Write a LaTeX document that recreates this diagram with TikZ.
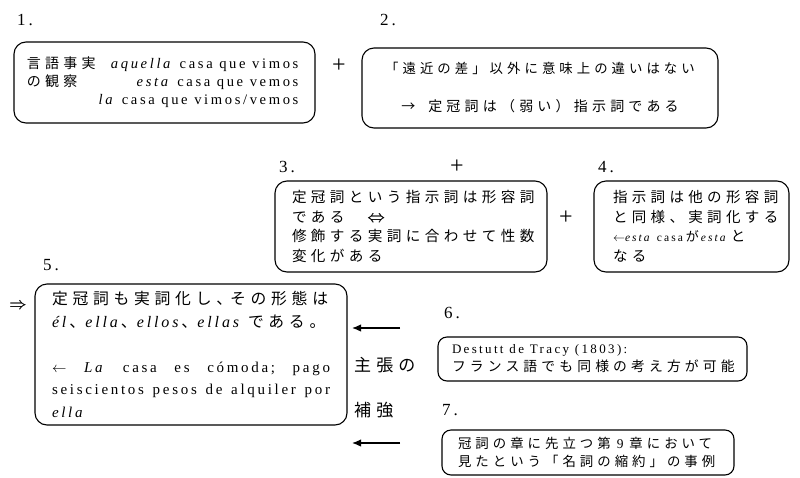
\documentclass[tikz,border=0pt]{standalone}
\usepackage{fontspec}
\setmainfont{Liberation Serif}[LetterSpace=18]
\newfontfamily\jpfont{Noto Sans CJK JP}[LetterSpace=30]
\newcommand\jtx[1]{{\jpfont #1}}
\newcommand\fatsym[1]{\rlap{$#1$}\kern0.45pt$#1$}
\newcommand\fsz[2]{\fontsize{#1}{#2}\selectfont\spaceskip=0.45em plus 0.1em minus 0.05em\relax}
\usetikzlibrary{arrows.meta}
\begin{document}
\begin{tikzpicture}[x=1pt,y=-1pt,
  box/.style={draw, line width=1.1pt, rounded corners=12pt, inner ysep=0pt, align=left, anchor=center},
  num/.style={font=\fontsize{17}{17}\selectfont, inner sep=0pt},
  plus/.style={font=\fontsize{24}{24}\selectfont, inner sep=0pt},
  side/.style={font=\fontsize{17}{17}\selectfont\jpfont, inner sep=0pt, anchor=west},
  arr/.style={line width=1.3pt, -{Latex[length=9pt,width=7.5pt]}}
]
\useasboundingbox (0,0) rectangle (800,477);

% labels
\node[num] (n1) at (25,20) {1.};
\node[num] (n2) at (388,20) {2.};
\node[num] (n3) at (287,167) {3.};
\node[num] (n4) at (606,167) {4.};
\node[num] (n5) at (51,265) {5.};
\node[num] (n6) at (452,313) {6.};
\node[num] (n7) at (450,410) {7.};

\node[plus] (p1) at (339,66) {+};
\node[plus] (p2) at (457,167) {+};
\node[plus] (p3) at (566,218) {+};

% box 1
\node[box, text width=275pt, inner xsep=13pt, minimum height=81pt,
      font=\fsz{14}{18}] (b1) at (164.5,82.5)
 {\begin{tabular}{@{}l@{\hspace{3pt}}r@{}}
  \jtx{言語事実} & {\fsz{14.6}{18}\textit{aquella} casa que vimos}\\
  \jtx{の観察} & {\fsz{14.6}{18}\textit{esta} casa que vemos}\\
   & {\fsz{14.6}{18}\textit{la} casa que vimos/vemos}
  \end{tabular}};

% box 2
\node[box, text width=336pt, inner xsep=10pt, minimum height=80pt, align=center,
      font=\fsz{13.4}{19}] (b2) at (540,88)
 {\jtx{「遠近の差」以外に意味上の違いはない}\\[19pt]
  {\fsz{14}{19}\jtx{→\hspace{13pt}定冠詞は（弱い）指示詞である}}};

% box 3
\node[box, text width=238pt, inner xsep=17pt, minimum height=91pt,
      font=\fsz{14.6}{19.5}] (b3) at (411,226.5)
 {\jtx{定冠詞という指示詞は形容詞}\\
  \jtx{である}\hspace{23pt}{\fontsize{16}{19.5}\selectfont\fatsym{\Leftrightarrow}}\\
  \jtx{修飾する実詞に合わせて性数}\\
  \jtx{変化がある}};

% box 4
\node[box, text width=157pt, inner xsep=19pt, minimum height=91pt,
      font=\fsz{14.5}{19.5}] (b4) at (691.5,226.5)
 {\jtx{指示詞は他の形容詞}\\
  \jtx{と同様、実詞化する}\\
  {\fsz{11.5}{19.5}$\leftarrow$\textit{esta} casa}\hspace{3pt}{\fontsize{13}{19.5}\selectfont\jtx{が}}\hspace{2pt}{\fsz{11.5}{19.5}\textit{esta}}\hspace{3pt}\jtx{と}\\
  \jtx{なる}};

% box 5
\node[box, text width=278pt, inner xsep=17pt, minimum height=141pt,
      font=\fsz{15}{22.5}] (b5) at (191,354.5)
 {{\fontsize{15.8}{22.5}\selectfont\jtx{定冠詞も実詞化し、\kern-2pt その形態は}}\\
  {\fsz{16}{22.5}\textit{él}\jtx{、}\textit{ella}\jtx{、}\textit{ellos}\jtx{、}\textit{ellas}}\hspace{6pt}{\fontsize{15.8}{22.5}\selectfont\jtx{である。}}\\[22.5pt]
  \makebox[278pt][l]{$\leftarrow$\hfill\textit{La}\hfill casa\hfill es\hfill cómoda;\hfill pago}\\
  \makebox[278pt][l]{seiscientos\hfill pesos\hfill de\hfill alquiler\hfill por}\\
  \textit{ella}};

% box 6
\node[box, rounded corners=9pt, text width=281pt, inner xsep=14pt, minimum height=44pt,
      font=\fsz{13.8}{18}] (b6) at (592.5,359)
 {{\fsz{13}{18}Destutt de Tracy (1803):}\\
  \jtx{フランス語でも同様の考え方が可能}};

% box 7
\node[box, rounded corners=9pt, text width=260pt, inner xsep=16pt, minimum height=45pt,
      font=\fsz{13.4}{18}] (b7) at (588,452.5)
 {\jtx{冠詞の章に先立つ第}\hspace{6pt}{\fsz{13.4}{18}9}\hspace{6pt}\jtx{章において}\\
  \jtx{見たという「名詞の縮約」の事例}};

% implication arrow
\node[font=\fontsize{18}{18}\selectfont, inner sep=0pt] (imp) at (18,306) {\fatsym{\Rightarrow}};

% side labels and arrows
\node[side] (s1) at (354,365) {主張の};
\node[side] (s2) at (354,410) {補強};
\coordinate (a1s) at (400,328);
\coordinate (a1e) at (352,328);
\coordinate (a2s) at (400,443);
\coordinate (a2e) at (352,443);
\draw[arr] (a1s) -- (a1e);
\draw[arr] (a2s) -- (a2e);
\end{tikzpicture}
\end{document}
